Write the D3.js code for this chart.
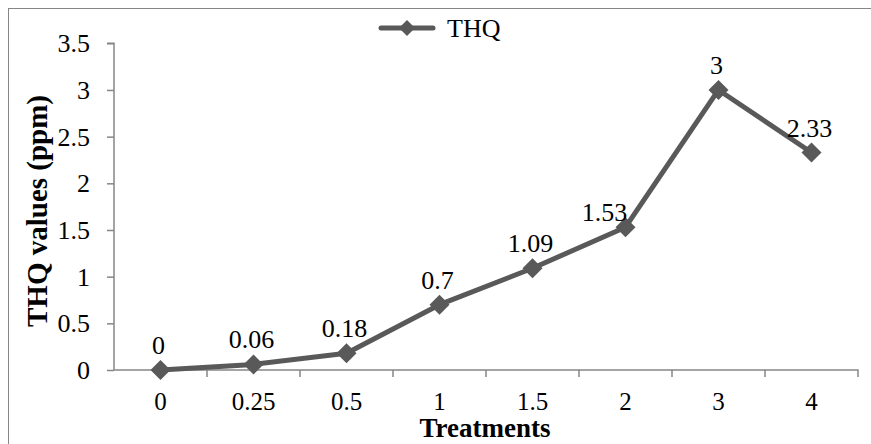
<!DOCTYPE html>
<html><head><meta charset="utf-8">
<script src="https://cdn.jsdelivr.net/npm/d3@7"></script>
<style>body{margin:0;background:#fff}svg{display:block}
svg text{font-family:"Liberation Serif","Tinos","Times New Roman",serif;}</style>
</head><body>
<script>
const categories = ["0","0.25","0.5","1","1.5","2","3","4"];
const thqValues = [0,0.06,0.18,0.7,1.09,1.53,3,2.33];
const dataLabels = ["0","0.06","0.18","0.7","1.09","1.53","3","2.33"];
const yTicks = [0,0.5,1,1.5,2,2.5,3,3.5];
const seriesName = "THQ";

(function(){
const W=871,H=444;
const svg=d3.select("body").append("svg").attr("width",W).attr("height",H);
const fs=26;
const lineColor="#595959", axisColor="#868686";

svg.append("rect").attr("x",8.5).attr("y",8.5).attr("width",880).attr("height",460)
  .attr("fill","none").attr("stroke",axisColor).attr("stroke-width",1);

const pLeft=114,pRight=858,pTop=43.3,pBottom=370;
const x=d3.scaleBand().domain(categories).range([pLeft,pRight]);
const y=d3.scaleLinear().domain([0,3.5]).range([pBottom,pTop]);

const ya=svg.append("g").attr("transform",`translate(${pLeft},0)`)
  .call(d3.axisLeft(y).tickValues(yTicks).tickSize(7).tickPadding(17).tickFormat(d=>String(d)));
ya.attr("font-family",null).attr("font-size",null);
ya.select(".domain").attr("stroke",axisColor).attr("stroke-width",1.5).attr("d",`M-7,${pTop}H0V${pBottom}`);
ya.selectAll(".tick line").attr("stroke",axisColor).attr("stroke-width",1.5);
ya.selectAll(".tick text").attr("font-size",fs).attr("fill","#000").attr("dy","0.33em");

const xa=svg.append("g").attr("transform",`translate(0,${pBottom})`)
  .call(d3.axisBottom(x).tickSize(0).tickPadding(0));
xa.attr("font-family",null).attr("font-size",null);
xa.select(".domain").attr("stroke",axisColor).attr("stroke-width",1.5).attr("d",`M${pLeft},0H${pRight}V7`);
xa.selectAll(".tick text").attr("font-size",25).attr("fill","#000").attr("dy",null).attr("y",40);
const bounds=categories.map(c=>x(c));
svg.append("g").selectAll("line").data(bounds.slice(1)).join("line")
  .attr("x1",d=>d).attr("x2",d=>d).attr("y1",pBottom).attr("y2",pBottom+7)
  .attr("stroke",axisColor).attr("stroke-width",1.5);

const cx=c=>x(c)+x.bandwidth()/2;
const pts=categories.map((c,i)=>({c,v:thqValues[i],l:dataLabels[i]}));

svg.append("path").datum(pts)
  .attr("d",d3.line().x(d=>cx(d.c)).y(d=>y(d.v)))
  .attr("fill","none").attr("stroke",lineColor).attr("stroke-width",5).attr("stroke-linejoin","round");

const diamond="M0,-10L10,0L0,10L-10,0Z";
svg.append("g").selectAll("path").data(pts).join("path")
  .attr("transform",d=>`translate(${cx(d.c)},${y(d.v)})`).attr("d",diamond).attr("fill",lineColor);

// label for 1.53 was nudged left in the original
const nudge={"1.53":[-21,10]};
svg.append("g").selectAll("text").data(pts).join("text")
  .attr("x",d=>cx(d.c)+(nudge[d.l]?nudge[d.l][0]:-2)).attr("y",d=>y(d.v)-16+(nudge[d.l]?nudge[d.l][1]:0))
  .attr("text-anchor","middle")
  .attr("font-size",fs).attr("fill","#000").text(d=>d.l);

svg.append("text").attr("transform","translate(47,211) rotate(-90)").attr("text-anchor","middle")
  .attr("font-size",29).attr("font-weight","bold").text("THQ values (ppm)");
svg.append("text").attr("x",485).attr("y",437).attr("text-anchor","middle")
  .attr("font-size",27).attr("font-weight","bold").text("Treatments");

const lg=svg.append("g");
lg.append("line").attr("x1",381).attr("x2",433).attr("y1",28).attr("y2",28)
  .attr("stroke",lineColor).attr("stroke-width",5).attr("stroke-linecap","round");
lg.append("path").attr("transform","translate(407,28)").attr("d","M0,-8L8,0L0,8L-8,0Z").attr("fill",lineColor);
lg.append("text").attr("x",447).attr("y",37).attr("font-size",fs).text(seriesName);
})();
</script>
</body></html>
